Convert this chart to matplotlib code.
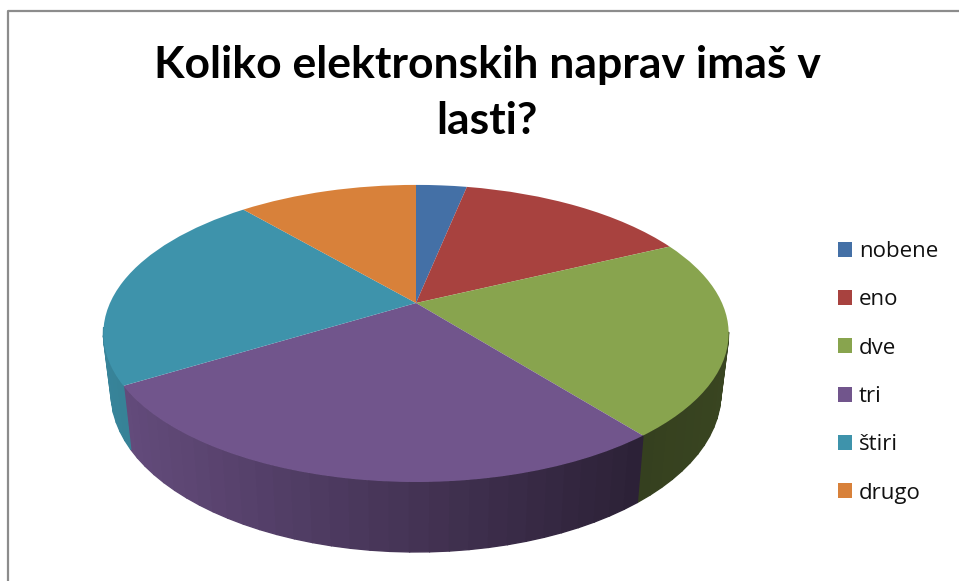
import numpy as np
import matplotlib
matplotlib.use("Agg")
import matplotlib.pyplot as plt
from matplotlib.transforms import Transform
from matplotlib.collections import PolyCollection
from matplotlib.lines import Line2D

title = "Koliko elektronskih naprav imaš v\nlasti?"
categories = ["nobene", "eno", "dve", "tri", "štiri", "drugo"]
values = [3.2, 14.7, 21.4, 27.0, 22.4, 11.3]
colors = ["#4470A6", "#A8423F", "#88A44E", "#71558C", "#3E93AB", "#D8813A"]

CX, CY = 416.0, 303.0
A, B, K = 306.0, 142.3, 0.205


class Perspective(Transform):
    input_dims = output_dims = 2
    is_affine = False

    def transform_non_affine(self, xy):
        xy = np.asarray(xy, float)
        yd = -xy[:, 1]
        den = 1 - K * yd
        return np.column_stack([CX + A * xy[:, 0] / den, CY + B * yd / den])


fig = plt.figure(figsize=(9.59, 5.81), dpi=100, facecolor="white")
ax = fig.add_axes([0, 0, 1, 1])
wedges, _ = ax.pie(values, colors=colors, startangle=90, counterclock=False,
                   wedgeprops=dict(linewidth=0))
ax.set_aspect("auto")
ax.set_xlim(0, 959)
ax.set_ylim(581, 0)
ax.axis("off")

persp = Perspective()
for w in wedges:
    w.set_transform(persp + ax.transData)
    w.set_zorder(3)

# side wall of the extruded pie, shaded by horizontal position
for w in wedges:
    n = max(int((w.theta2 - w.theta1) / 3.0), 2)
    th = np.radians(np.linspace(w.theta1, w.theta2, n + 1))
    top = persp.transform_non_affine(np.column_stack([np.cos(th), np.sin(th)]))
    bottom = np.column_stack([CX + (top[:, 0] - CX) * 0.975,
                              top[:, 1] + 58 + (top[:, 1] - CY) * 0.067])
    polys, cols = [], []
    base = np.array(matplotlib.colors.to_rgb(w.get_facecolor()))
    for i in range(n):
        if max(top[i, 1], top[i + 1, 1]) < 335:
            continue  # this part of the rim faces away from the viewer
        polys.append([top[i], top[i + 1], bottom[i + 1], bottom[i]])
        xm = (top[i, 0] + top[i + 1, 0]) / 2
        cols.append(base * np.interp(xm, [103, 640, 729], [0.9, 0.39, 0.42]))
    ax.add_collection(PolyCollection(polys, facecolors=cols, edgecolors=cols,
                                     linewidths=1.0, zorder=2))

ax.text(487, 93, title, ha="center", va="center", family="Lato",
        fontweight="bold", fontsize=32, color="black", linespacing=1.5)

ax.legend(wedges, categories, loc="upper left", bbox_to_anchor=(832 / 959, 1 - 235 / 581),
          frameon=False, prop=dict(family="Open Sans", size=16),
          handlelength=0.65, handleheight=0.65, handletextpad=0.28,
          labelspacing=1.23, labelcolor="#111111", borderpad=0.27, borderaxespad=0)

frame = "#8c8c8c"
ax.add_line(Line2D([8, 8, 959], [581, 11, 11], color=frame, lw=1.6, zorder=5))

fig.savefig("out.png", dpi=100, facecolor="white")
